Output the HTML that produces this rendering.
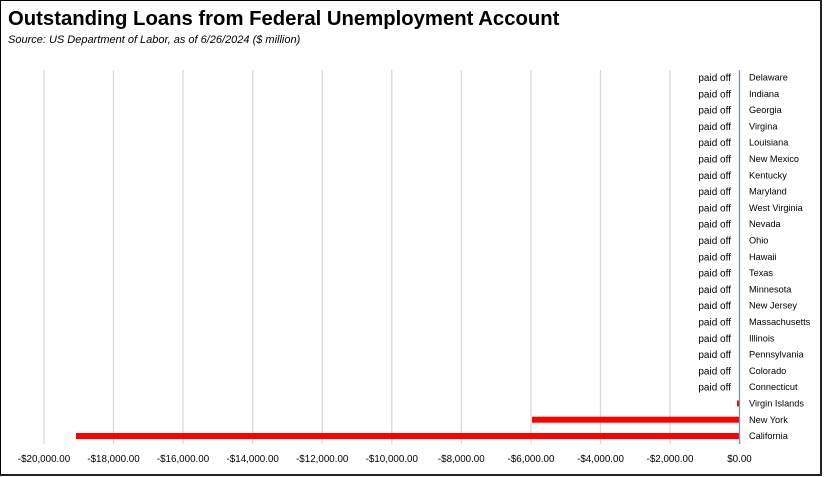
<!DOCTYPE html>
<html><head><meta charset="utf-8"><style>
html,body{margin:0;padding:0;background:#fff;}
svg{display:block;}
text{font-family:"Liberation Sans",sans-serif;}
</style></head><body>
<svg width="824" height="477" viewBox="0 0 824 477" xmlns="http://www.w3.org/2000/svg">
<rect x="0.5" y="0.5" width="820" height="474" fill="#fff" stroke="#000" stroke-width="1"/>
<line x1="821" y1="0" x2="821" y2="476" stroke="#222" stroke-width="2"/>
<line x1="0" y1="475" x2="822" y2="475" stroke="#222" stroke-width="2"/>
<text x="8" y="25" font-size="20.3" font-weight="bold" fill="#000">Outstanding Loans from Federal Unemployment Account</text>
<text x="8" y="43" font-size="11" font-style="italic" fill="#000">Source:  US Department of Labor, as of 6/26/2024  ($ million)</text>
<g stroke="#d9d9d9" stroke-width="1.3">
<line x1="44" y1="70" x2="44" y2="444"/>
<line x1="113.5" y1="70" x2="113.5" y2="444"/>
<line x1="183" y1="70" x2="183" y2="444"/>
<line x1="252.7" y1="70" x2="252.7" y2="444"/>
<line x1="322.2" y1="70" x2="322.2" y2="444"/>
<line x1="391.8" y1="70" x2="391.8" y2="444"/>
<line x1="461.3" y1="70" x2="461.3" y2="444"/>
<line x1="531" y1="70" x2="531" y2="444"/>
<line x1="600.5" y1="70" x2="600.5" y2="444"/>
<line x1="670" y1="70" x2="670" y2="444"/>
</g>
<rect x="76" y="433" width="663.5" height="6" fill="#ff0000"/>
<rect x="532" y="416.7" width="207.5" height="6" fill="#ff0000"/>
<rect x="737" y="400.5" width="2.5" height="6" fill="#ff0000"/>
<line x1="739.5" y1="70" x2="739.5" y2="444" stroke="#7f8fa6" stroke-width="1.3"/>
<g font-size="10" fill="#000" text-anchor="end">
<text x="731" y="81">paid off</text><text x="731" y="97.3">paid off</text><text x="731" y="113.6">paid off</text><text x="731" y="129.9">paid off</text><text x="731" y="146.2">paid off</text><text x="731" y="162.5">paid off</text><text x="731" y="178.8">paid off</text><text x="731" y="195.1">paid off</text><text x="731" y="211.4">paid off</text><text x="731" y="227.7">paid off</text><text x="731" y="244">paid off</text><text x="731" y="260.3">paid off</text><text x="731" y="276.6">paid off</text><text x="731" y="292.9">paid off</text><text x="731" y="309.2">paid off</text><text x="731" y="325.5">paid off</text><text x="731" y="341.8">paid off</text><text x="731" y="358.1">paid off</text><text x="731" y="374.4">paid off</text><text x="731" y="390.7">paid off</text>
</g>
<g font-size="9.2" fill="#000">
<text x="749" y="80.5">Delaware</text><text x="749" y="96.8">Indiana</text><text x="749" y="113.1">Georgia</text><text x="749" y="129.4">Virgina</text><text x="749" y="145.7">Louisiana</text><text x="749" y="162">New Mexico</text><text x="749" y="178.3">Kentucky</text><text x="749" y="194.6">Maryland</text><text x="749" y="210.9">West Virginia</text><text x="749" y="227.2">Nevada</text><text x="749" y="243.5">Ohio</text><text x="749" y="259.8">Hawaii</text><text x="749" y="276.1">Texas</text><text x="749" y="292.4">Minnesota</text><text x="749" y="308.7">New Jersey</text><text x="749" y="325">Massachusetts</text><text x="749" y="341.3">Illinois</text><text x="749" y="357.6">Pennsylvania</text><text x="749" y="373.9">Colorado</text><text x="749" y="390.2">Connecticut</text><text x="749" y="406.5">Virgin Islands</text><text x="749" y="422.8">New York</text><text x="749" y="439.1">California</text>
</g>
<g font-size="9.8" fill="#000" text-anchor="middle">
<text x="44" y="462">-$20,000.00</text><text x="113.5" y="462">-$18,000.00</text><text x="183" y="462">-$16,000.00</text><text x="252.7" y="462">-$14,000.00</text><text x="322.2" y="462">-$12,000.00</text><text x="391.8" y="462">-$10,000.00</text><text x="461.3" y="462">-$8,000.00</text><text x="531" y="462">-$6,000.00</text><text x="600.5" y="462">-$4,000.00</text><text x="670" y="462">-$2,000.00</text><text x="739.5" y="462">$0.00</text>
</g>
</svg>
</body></html>
